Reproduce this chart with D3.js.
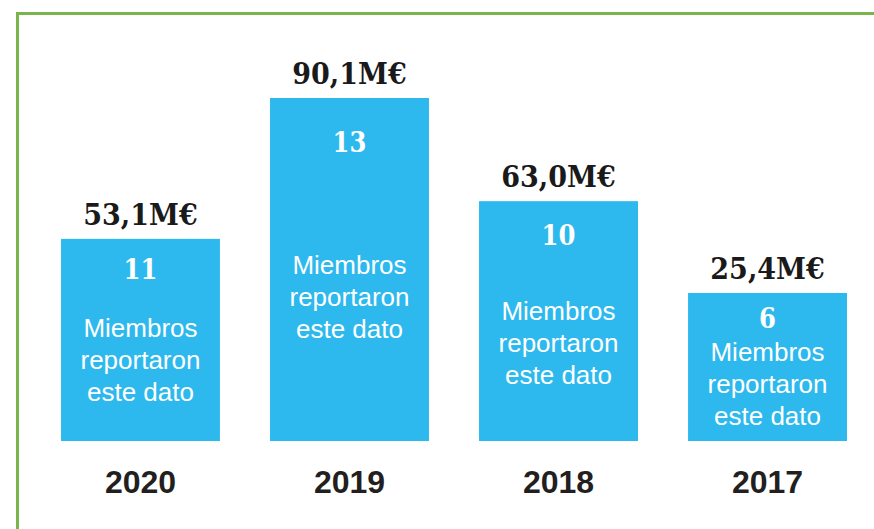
<!DOCTYPE html>
<html>
<head>
<meta charset="utf-8">
<script src="https://cdn.jsdelivr.net/npm/d3@7/dist/d3.min.js"></script>
<style>
  html, body { margin: 0; padding: 0; background: #fff; }
  svg { display: block; }
</style>
</head>
<body>
<div id="chart"></div>
<script>
/** Chart data */
const years = ["2020", "2019", "2018", "2017"];
const amounts = [53.1, 90.1, 63.0, 25.4]; // M€
const members = [11, 13, 10, 6];
const memberText = ["Miembros", "reportaron", "este dato"];

/** Graph configs */
const width = 874;
const height = 529;
const baseline = 441;
const maxBarHeight = 343;
const minBarHeight = 148; // room for the text block
const barColor = "#2db9ed";
const frameColor = "#79b54a";
const serif = "'DejaVu Serif', 'Liberation Serif', serif";
const sans = "'Liberation Sans', Arial, sans-serif";

const fmt = (v) => v.toFixed(1).replace(".", ",") + "M€";

const svg = d3
  .select("#chart")
  .append("svg")
  .attr("width", width)
  .attr("height", height);

/** Green frame (top + left) */
svg.append("path")
  .attr("d", `M17.5,${height} V13.5 H${width}`)
  .attr("fill", "none")
  .attr("stroke", frameColor)
  .attr("stroke-width", 3);

/** Scales */
const xScale = d3
  .scaleBand()
  .domain(years)
  .range([61, 847])
  .paddingInner(0.2396)
  .paddingOuter(0);

const hScale = d3
  .scaleLinear()
  .domain([0, d3.max(amounts)])
  .range([0, maxBarHeight]);

const rows = years.map((y, i) => {
  const h = Math.max(hScale(amounts[i]), minBarHeight);
  return { year: y, amount: amounts[i], members: members[i], h, top: baseline - h };
});

const g = svg.selectAll("g.bar").data(rows).enter().append("g").attr("class", "bar");
const cx = (d) => xScale(d.year) + xScale.bandwidth() / 2;

/** Bars */
g.append("rect")
  .attr("x", (d) => xScale(d.year))
  .attr("y", (d) => d.top)
  .attr("width", xScale.bandwidth())
  .attr("height", (d) => d.h)
  .attr("fill", barColor);

/** Amount labels above bars */
g.append("text")
  .attr("x", cx)
  .attr("y", (d) => d.top - 14)
  .attr("text-anchor", "middle")
  .attr("font-family", serif)
  .attr("font-weight", "bold")
  .attr("font-size", 30)
  .style("font-stretch", "condensed")
  .attr("fill", "#1a1a1a")
  .text((d) => fmt(d.amount));

/** Member count inside bar */
const numBase = (d) => d.top + 20 + d.h * 0.1;
g.append("text")
  .attr("x", cx)
  .attr("y", numBase)
  .attr("text-anchor", "middle")
  .attr("font-family", serif)
  .attr("font-weight", "bold")
  .attr("font-size", 27)
  .style("font-stretch", "condensed")
  .attr("fill", "#fff")
  .text((d) => d.members);

/** Descriptive text, centred in the space below the number */
const lineGap = 32;
g.each(function (d) {
  const mid = (numBase(d) + baseline) / 2;
  const first = mid - lineGap + 9;
  d3.select(this)
    .selectAll("text.desc")
    .data(memberText)
    .enter()
    .append("text")
    .attr("class", "desc")
    .attr("x", cx(d))
    .attr("y", (_, i) => first + i * lineGap)
    .attr("text-anchor", "middle")
    .attr("font-family", sans)
    .attr("font-size", 26)
    .attr("fill", "#fff")
    .text((t) => t);
});

/** Year labels */
g.append("text")
  .attr("x", cx)
  .attr("y", 493)
  .attr("text-anchor", "middle")
  .attr("font-family", sans)
  .attr("font-weight", "bold")
  .attr("font-size", 32)
  .attr("fill", "#231f20")
  .text((d) => d.year);
</script>
</body>
</html>
